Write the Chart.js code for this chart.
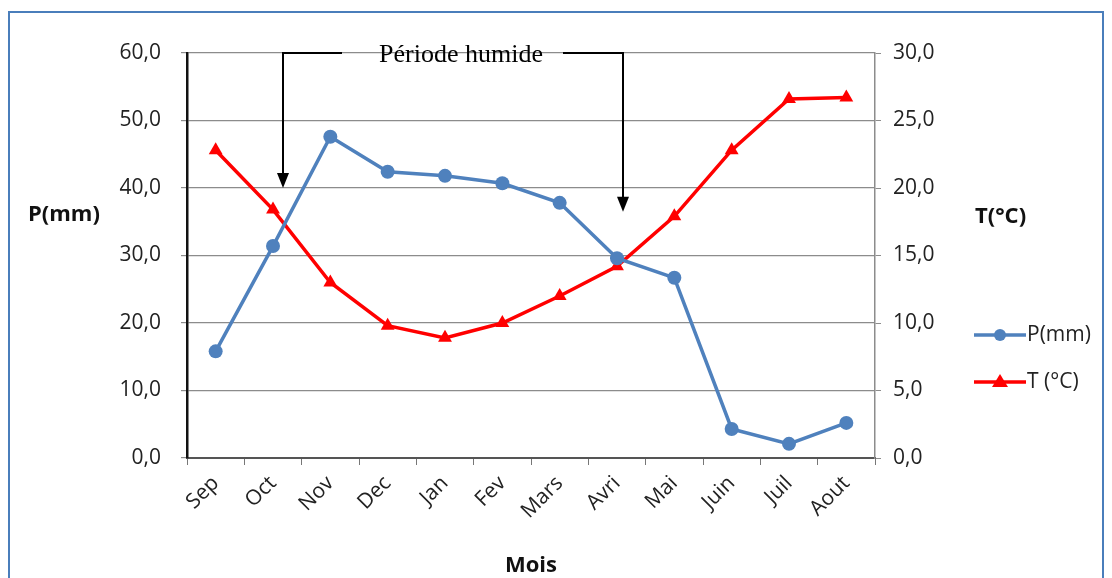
<!DOCTYPE html>
<html>
<head>
<meta charset="utf-8">
<script src="https://cdn.jsdelivr.net/npm/chart.js@4"></script>
<style>
  body { margin: 0; background: #fff; }
  #wrap { width: 1112px; height: 578px; }
</style>
</head>
<body>
<div id="wrap"><canvas id="climChart" width="1112" height="578"></canvas></div>
<script>
const months = ["Sep", "Oct", "Nov", "Dec", "Jan", "Fev", "Mars", "Avri", "Mai", "Juin", "Juil", "Aout"];
const precip = [15.8, 31.4, 47.6, 42.4, 41.8, 40.7, 37.8, 29.6, 26.7, 4.3, 2.1, 5.2];
const temp = [22.8, 18.4, 13.0, 9.8, 8.9, 10.0, 12.0, 14.2, 17.9, 22.8, 26.6, 26.7];
const pTicks = [0, 10, 20, 30, 40, 50, 60];
const tTicks = [0, 5, 10, 15, 20, 25, 30];

const blue = "#4f81bd";
const red = "#ff0000";
const tickFont = { family: "Open Sans", size: 21 };

function frNum(v) {
    return Number(v).toFixed(1).replace(".", ",");
}

// frame, annotation arrows, axis titles and legend
const extras = {
    id: "extras",
    beforeDraw(chart) {
        const ctx = chart.ctx;
        ctx.save();
        ctx.fillStyle = "#fff";
        ctx.fillRect(0, 0, chart.width, chart.height);
        ctx.restore();
    },
    afterDraw(chart) {
        const ctx = chart.ctx;
        const area = chart.chartArea;
        const x = chart.scales.x;
        const yP = chart.scales.yP;
        ctx.save();

        // outer border
        ctx.strokeStyle = "#4a7ebb";
        ctx.lineWidth = 2;
        ctx.strokeRect(9, 12, 1094, 620);

        // "Période humide" bracket with arrows
        const xL = x.getPixelForValue(1) + 10;
        const xR = x.getPixelForValue(7) + 6;
        const tipL = yP.getPixelForValue(40);
        const tipR = yP.getPixelForValue(36.5);
        const top = area.top;
        ctx.strokeStyle = "#000";
        ctx.fillStyle = "#000";
        ctx.lineWidth = 2;
        ctx.beginPath();
        ctx.moveTo(xL + 59, top); ctx.lineTo(xL, top); ctx.lineTo(xL, tipL - 12);
        ctx.moveTo(xR - 60, top); ctx.lineTo(xR, top); ctx.lineTo(xR, tipR - 12);
        ctx.stroke();
        [[xL, tipL], [xR, tipR]].forEach(([ax, ay]) => {
            ctx.beginPath();
            ctx.moveTo(ax, ay);
            ctx.lineTo(ax - 6, ay - 15);
            ctx.lineTo(ax + 6, ay - 15);
            ctx.closePath();
            ctx.fill();
        });
        ctx.font = "26px 'Liberation Serif'";
        ctx.textAlign = "center";
        ctx.textBaseline = "middle";
        ctx.fillStyle = "#000";
        ctx.fillText("Période humide", (xL + xR) / 2 + 8, top + 2);

        // axis titles
        ctx.font = "bold 22px 'Open Sans'";
        ctx.fillStyle = "#111";
        ctx.textAlign = "left";
        ctx.fillText("P(mm)", 28, 215);
        ctx.fillText("T(°C)", 975, 217);
        ctx.textAlign = "center";
        ctx.fillText("Mois", (area.left + area.right) / 2, 566);

        // legend
        const items = [
            { label: "P(mm)", color: blue, y: 335, style: "circle" },
            { label: "T (°C)", color: red, y: 382, style: "triangle" }
        ];
        items.forEach(it => {
            ctx.strokeStyle = it.color;
            ctx.fillStyle = it.color;
            ctx.lineWidth = 3.5;
            ctx.beginPath();
            ctx.moveTo(974, it.y); ctx.lineTo(1026, it.y);
            ctx.stroke();
            ctx.beginPath();
            if (it.style === "circle") {
                ctx.arc(1000, it.y, 6, 0, Math.PI * 2);
            } else {
                ctx.moveTo(1000, it.y - 8); ctx.lineTo(1008, it.y + 5); ctx.lineTo(992, it.y + 5); ctx.closePath();
            }
            ctx.fill();
            ctx.fillStyle = "#222";
            ctx.font = "21px 'Open Sans'";
            ctx.textAlign = "left";
            ctx.fillText(it.label, 1027, it.y);
        });
        ctx.restore();
    }
};

new Chart(document.getElementById("climChart"), {
    type: "line",
    data: {
        labels: months,
        datasets: [{
            label: "P(mm)",
            data: precip,
            yAxisID: "yP",
            borderColor: blue,
            backgroundColor: blue,
            borderWidth: 3.5,
            pointStyle: "circle",
            pointRadius: 7,
            pointBorderWidth: 0,
            tension: 0
        }, {
            label: "T (°C)",
            data: temp,
            yAxisID: "yT",
            borderColor: red,
            backgroundColor: red,
            borderWidth: 3.5,
            pointStyle: "triangle",
            pointRadius: 8,
            pointBorderWidth: 0,
            tension: 0
        }]
    },
    options: {
        responsive: false,
        animation: false,
        layout: { padding: { top: 53, left: 0, right: 0, bottom: 0 } },
        plugins: {
            legend: { display: false },
            tooltip: { enabled: false }
        },
        scales: {
            x: {
                offset: true,
                grid: { offset: true, drawOnChartArea: false, drawTicks: true, tickLength: 7, color: "#777" },
                border: { color: "#555", width: 2 },
                ticks: { font: tickFont, color: "#222", minRotation: 45, maxRotation: 45, padding: 6 },
                afterFit(scale) { scale.height = 120; }
            },
            yP: {
                position: "left",
                min: 0,
                max: 60,
                afterBuildTicks(scale) { scale.ticks = pTicks.map(v => ({ value: v })); },
                grid: { color: "#8c8c8c", lineWidth: 1.2, tickLength: 6 },
                border: { color: "#111", width: 2.5 },
                ticks: { font: tickFont, color: "#222", padding: 20, callback: v => frNum(v) },
                afterFit(scale) { scale.width = 187; }
            },
            yT: {
                position: "right",
                min: 0,
                max: 30,
                afterBuildTicks(scale) { scale.ticks = tTicks.map(v => ({ value: v })); },
                grid: { drawOnChartArea: false, color: "#8c8c8c", tickLength: 6 },
                border: { color: "#8c8c8c", width: 1.5 },
                ticks: { font: tickFont, color: "#222", padding: 12, callback: v => frNum(v) },
                afterFit(scale) { scale.width = 237; }
            }
        }
    },
    plugins: [extras]
});
</script>
</body>
</html>
